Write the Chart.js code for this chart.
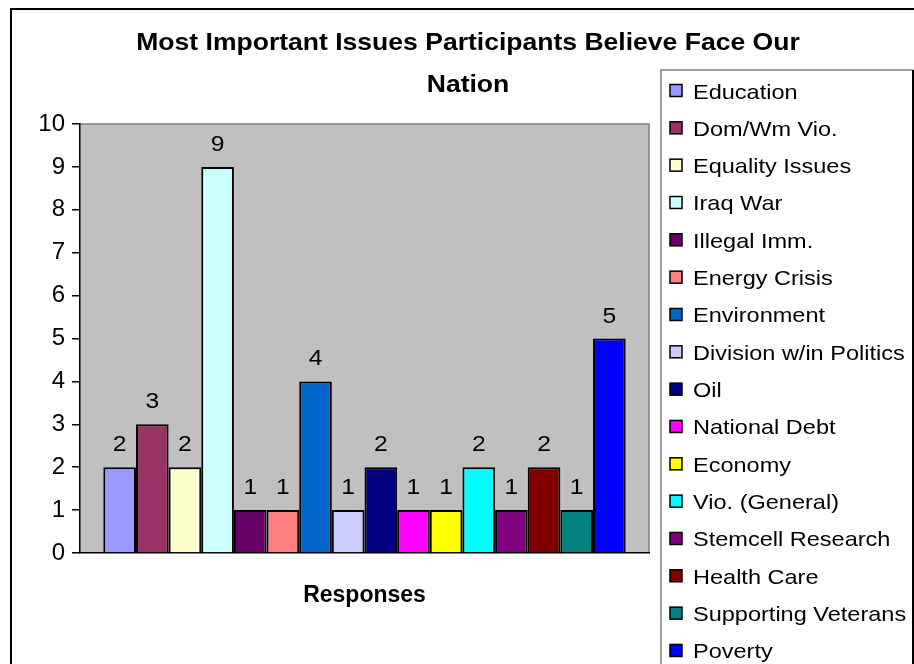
<!DOCTYPE html>
<html>
<head>
<meta charset="utf-8">
<script src="https://cdn.jsdelivr.net/npm/chart.js@4"></script>
<style>
  html, body { margin: 0; padding: 0; background: #fff; }
</style>
</head>
<body>
<canvas id="chart" width="914" height="664"></canvas>
<script>
const titleLines = ["Most Important Issues Participants Believe Face Our", "Nation"];
const category = ["Responses"];
const issues = [
  "Education", "Dom/Wm Vio.", "Equality Issues", "Iraq War", "Illegal Imm.",
  "Energy Crisis", "Environment", "Division w/in Politics", "Oil", "National Debt",
  "Economy", "Vio. (General)", "Stemcell Research", "Health Care",
  "Supporting Veterans", "Poverty"
];
const counts = [2, 3, 2, 9, 1, 1, 4, 1, 2, 1, 1, 2, 1, 2, 1, 5];
const colors = [
  "#9999FF", "#993366", "#FFFFCC", "#CCFFFF", "#660066",
  "#FF8080", "#0066CC", "#CCCCFF", "#000080", "#FF00FF",
  "#FFFF00", "#00FFFF", "#800080", "#800000", "#008080", "#0000FF"
];

const FONT = "Arial, 'Liberation Sans', sans-serif";
const SX = 1.12; // the original text is drawn a little wide

function wideText(ctx, text, x, y, align) {
  ctx.save();
  ctx.translate(x, y);
  ctx.scale(SX, 1);
  ctx.textAlign = align;
  ctx.fillText(text, 0, 0);
  ctx.restore();
}

const excelLook = {
  id: "excelLook",
  beforeDraw(chart) {
    const { ctx, chartArea: a } = chart;
    ctx.save();
    ctx.fillStyle = "#C0C0C0";
    ctx.fillRect(a.left, a.top, a.right - a.left, a.bottom - a.top);
    ctx.strokeStyle = "#808080";
    ctx.lineWidth = 1.5;
    ctx.beginPath();
    ctx.moveTo(a.left, a.top);
    ctx.lineTo(a.right, a.top);
    ctx.lineTo(a.right, a.bottom);
    ctx.stroke();
    ctx.restore();
  },
  afterDatasetsDraw(chart) {
    const ctx = chart.ctx;
    ctx.save();
    ctx.fillStyle = "#000";
    ctx.font = "22px " + FONT;
    ctx.textBaseline = "alphabetic";
    chart.data.datasets.forEach((ds, i) => {
      const bar = chart.getDatasetMeta(i).data[0];
      wideText(ctx, String(ds.data[0]), bar.x, bar.y - 16, "center");
    });
    ctx.restore();
  },
  afterDraw(chart) {
    const ctx = chart.ctx;
    ctx.save();
    // outer frame
    ctx.strokeStyle = "#000";
    ctx.lineWidth = 2;
    ctx.strokeRect(11, 9, 920, 680);

    // title
    ctx.fillStyle = "#000";
    ctx.font = "bold 23.7px " + FONT;
    ctx.textBaseline = "alphabetic";
    wideText(ctx, titleLines[0], 468, 50, "center");
    wideText(ctx, titleLines[1], 468, 92, "center");

    // legend box
    ctx.strokeStyle = "#808080";
    ctx.lineWidth = 1.5;
    ctx.beginPath();
    ctx.moveTo(661, 680);
    ctx.lineTo(661, 70);
    ctx.lineTo(913, 70);
    ctx.stroke();
    ctx.strokeStyle = "#000";
    ctx.lineWidth = 2;
    ctx.beginPath();
    ctx.moveTo(913, 70);
    ctx.lineTo(913, 680);
    ctx.stroke();

    ctx.font = "21px " + FONT;
    chart.data.datasets.forEach((ds, i) => {
      const base = 98.5 + i * 37.33;
      ctx.fillStyle = ds.backgroundColor;
      ctx.fillRect(670, base - 14, 12, 12);
      ctx.strokeStyle = "#000";
      ctx.lineWidth = 1.5;
      ctx.strokeRect(670, base - 14, 12, 12);
      ctx.fillStyle = "#000";
      wideText(ctx, ds.label, 693, base, "left");
    });
    ctx.restore();
  }
};

new Chart(document.getElementById("chart"), {
  type: "bar",
  data: {
    labels: category,
    datasets: issues.map((name, i) => ({
      label: name,
      data: [counts[i]],
      backgroundColor: colors[i],
      borderColor: "#000",
      borderWidth: 2,
      categoryPercentage: 0.918,
      barPercentage: 1
    }))
  },
  options: {
    responsive: false,
    animation: false,
    devicePixelRatio: 1,
    layout: { padding: { left: 0, top: 124, right: 265, bottom: 0 } },
    plugins: {
      legend: { display: false },
      title: { display: false },
      tooltip: { enabled: false }
    },
    scales: {
      x: {
        ticks: { display: false },
        grid: { display: false },
        border: { color: "#000", width: 1.5 },
        title: {
          display: true,
          text: "Responses",
          color: "#000",
          font: { family: FONT, size: 23, weight: "bold" },
          padding: { top: 0, bottom: 55 }
        },
        afterFit(scale) { scale.height = 111; }
      },
      y: {
        min: 0,
        max: 10,
        ticks: {
          stepSize: 1,
          color: "#000",
          padding: 7,
          font: { family: FONT, size: 24 }
        },
        grid: { drawOnChartArea: false, color: "#000", tickLength: 8, lineWidth: 1.5 },
        border: { color: "#000", width: 1.5 },
        afterFit(scale) { scale.width = 80; }
      }
    }
  },
  plugins: [excelLook]
});
</script>
</body>
</html>
